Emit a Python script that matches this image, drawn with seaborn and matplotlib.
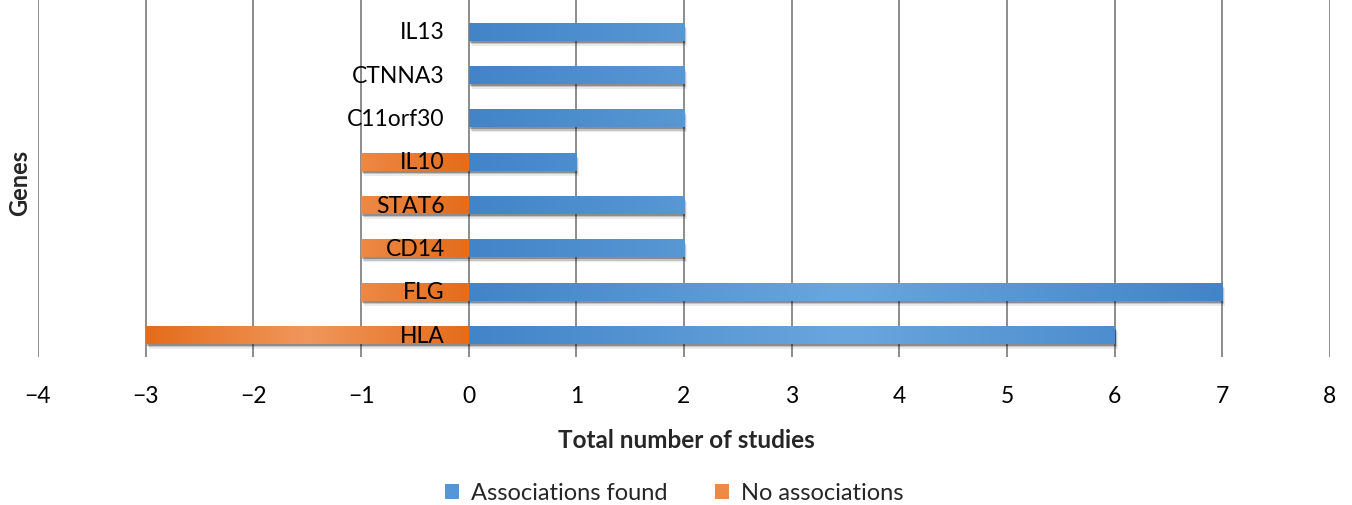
import numpy as np
import pandas as pd
import matplotlib
matplotlib.use("Agg")
import matplotlib.pyplot as plt
import matplotlib.transforms as mtransforms
from matplotlib.patches import Rectangle, Patch
from matplotlib.colors import to_rgb
import seaborn as sns

# Data
genes = ["IL13", "CTNNA3", "C11orf30", "IL10", "STAT6", "CD14", "FLG", "HLA"]
found = [2, 2, 2, 1, 2, 2, 7, 6]
no_assoc = [0, 0, 0, -1, -1, -1, -1, -3]
xticks = list(range(-4, 9))
xtick_labels = [str(v).replace("-", "\u2212") for v in xticks]
series_names = ["Associations found", "No associations"]

BLUE_DARK, BLUE_LIGHT = "#4284c8", "#6aa6de"
ORANGE_DARK, ORANGE_LIGHT = "#e46c1a", "#f0975c"

sns.set_theme(style="white")
plt.rcParams["font.family"] = ["Lato", "DejaVu Sans"]

W, H = 1352, 506
fig = plt.figure(figsize=(W / 100, H / 100), dpi=100)
ax = fig.add_axes([38 / W, 1 - 358 / H, (1330 - 38) / W, 358 / H])

df = pd.DataFrame({"gene": genes, "found": found, "none": no_assoc})
sns.barplot(data=df, x="found", y="gene", orient="h", color=BLUE_DARK,
            width=0.4, ax=ax, zorder=3, linewidth=0)
n_blue = len(ax.patches)
sns.barplot(data=df, x="none", y="gene", orient="h", color=ORANGE_DARK,
            width=0.4, ax=ax, zorder=3, linewidth=0)

xlim = (-4, 8)
ylim = (7.5, -0.5 - 11.3 / 43.4)

# each series shares one dark-light-dark gradient spanning its full extent
spans = {
    "blue": (min(0, min(found)), max(found)),
    "orange": (min(no_assoc), max(0, max(no_assoc))),
}


def gradient_row(x0, x1, lo, hi, dark, light):
    xs = np.linspace(x0, x1, 256)
    t = (xs - lo) / (hi - lo)
    prof = 1 - np.abs(2 * t - 1)
    d, l = np.array(to_rgb(dark)), np.array(to_rgb(light))
    return (d[None, :] + (l - d)[None, :] * prof[:, None])[None, :, :]


for i, p in enumerate(ax.patches):
    w = p.get_width()
    if abs(w) < 1e-9:
        continue
    x0 = min(p.get_x(), p.get_x() + w)
    x1 = max(p.get_x(), p.get_x() + w)
    y0 = p.get_y()
    h = p.get_height()
    if i < n_blue:
        lo, hi = spans["blue"]
        img = gradient_row(x0, x1, lo, hi, BLUE_DARK, BLUE_LIGHT)
    else:
        lo, hi = spans["orange"]
        img = gradient_row(x0, x1, lo, hi, ORANGE_DARK, ORANGE_LIGHT)
    ax.imshow(img, extent=(x0, x1, y0 + h, y0), aspect="auto",
              interpolation="bilinear", zorder=3.5)
    p.set_facecolor("none")
    p.set_edgecolor("none")
    # soft drop shadow
    for dx, dy, a in [(1, -2, 0.28), (2, -3.5, 0.16), (3, -5, 0.08)]:
        tr = ax.transData + mtransforms.ScaledTranslation(dx / 100, dy / 100, fig.dpi_scale_trans)
        ax.add_patch(Rectangle((x0, y0), x1 - x0, h, transform=tr,
                               facecolor="black", alpha=a, lw=0, zorder=2))

ax.set_xlim(*xlim)
ax.set_ylim(*ylim)

# gene names placed just left of the zero line
label_tr = ax.transData + mtransforms.ScaledTranslation(-24 / 100, 0, fig.dpi_scale_trans)
for i, g in enumerate(genes):
    ax.text(0, i, g, transform=label_tr, ha="right", va="center",
            fontsize=16.5, color="black", zorder=10)

ax.set_xticks(xticks)
ax.set_xticklabels(xtick_labels, fontsize=16.5, color="black")
ax.tick_params(axis="x", length=0, pad=20)
ax.set_yticks([])
ax.xaxis.grid(True, color="#8c8c8c", lw=1.4)
ax.set_axisbelow(True)
for s in ax.spines.values():
    s.set_visible(False)
ax.set_xlabel("")
ax.set_ylabel("")

fig.text(686 / W, 1 - 441 / H, "Total number of studies", ha="center", va="center",
         fontsize=17.5, fontweight="bold")
fig.text(20 / W, 1 - 183 / H, "Genes", ha="center", va="center", rotation=90,
         fontsize=17, fontweight="bold")

handles = [Patch(facecolor="#5597d6", edgecolor="none"),
           Patch(facecolor="#ee8a45", edgecolor="none")]
fig.legend(handles, series_names, loc="center", bbox_to_anchor=(674 / W, 1 - 494 / H),
           ncol=2, frameon=False, fontsize=17, handlelength=0.6, handleheight=0.6,
           handletextpad=0.5, columnspacing=2.0)

fig.savefig("out.png", dpi=100)
